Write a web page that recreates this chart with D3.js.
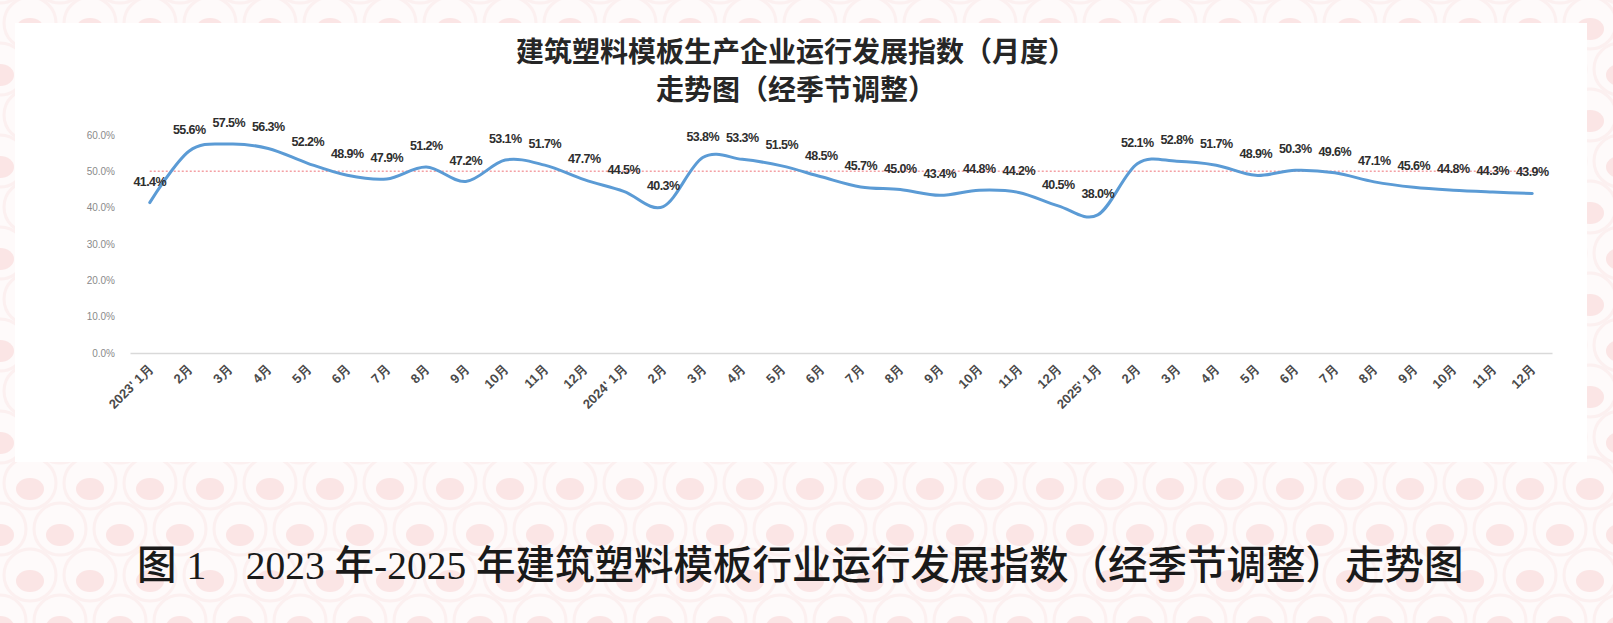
<!DOCTYPE html>
<html>
<head>
<meta charset="utf-8">
<script src="https://cdn.jsdelivr.net/npm/d3@7"></script>
<style>
  body { margin: 0; background: #fefafa; }
  svg { display: block; }
</style>
</head>
<body>
<div id="wykres"></div>
<script>
// dane
var years = ["2023", "2024", "2025"];
var months = ["1月", "2月", "3月", "4月", "5月", "6月", "7月", "8月", "9月", "10月", "11月", "12月"];
var values = [
  41.4, 55.6, 57.5, 56.3, 52.2, 48.9, 47.9, 51.2, 47.2, 53.1, 51.7, 47.7,
  44.5, 40.3, 53.8, 53.3, 51.5, 48.5, 45.7, 45.0, 43.4, 44.8, 44.2, 40.5,
  38.0, 52.1, 52.8, 51.7, 48.9, 50.3, 49.6, 47.1, 45.6, 44.8, 44.3, 43.9
];
var benchmark = 50;
var yTicks = [0, 10, 20, 30, 40, 50, 60];
var titleLines = ["建筑塑料模板生产企业运行发展指数（月度）", "走势图（经季节调整）"];
var caption = "图 1    2023 年-2025 年建筑塑料模板行业运行发展指数（经季节调整）走势图";

var width = 1613, height = 623;
var margin = { top: 135, left: 130, right: 61, bottom: 270 };

var categories = [];
years.forEach(function (y) {
  months.forEach(function (m, i) {
    categories.push(i == 0 ? y + "' " + m : m);
  });
});
var dane = values.map(function (v, i) { return { i: i, kat: categories[i], v: v }; });

var svg = d3.select("#wykres")
  .append("svg")
  .attr("width", width)
  .attr("height", height);

// tlo w kolka
var defs = svg.append("defs");
var pat = defs.append("pattern")
  .attr("id", "kolka")
  .attr("patternUnits", "userSpaceOnUse")
  .attr("width", 60)
  .attr("height", 92);
pat.append("rect").attr("width", 60).attr("height", 92).attr("fill", "#fefafa");
[[30, 23], [30, 115], [0, 69], [60, 69], [0, -23], [60, -23]].forEach(function (c) {
  pat.append("circle")
    .attr("cx", c[0]).attr("cy", c[1]).attr("r", 26)
    .attr("fill", "none").attr("stroke", "#fcf0f0").attr("stroke-width", 3);
  pat.append("ellipse")
    .attr("cx", c[0]).attr("cy", c[1] + 6).attr("rx", 14).attr("ry", 11)
    .attr("fill", "#fbe5e5");
});
svg.append("rect").attr("width", width).attr("height", height).attr("fill", "url(#kolka)");

// bialy panel wykresu
svg.append("rect")
  .attr("x", 15).attr("y", 23)
  .attr("width", 1572).attr("height", 439)
  .attr("fill", "white");

var g = svg.append("g")
  .attr("transform", "translate(" + margin.left + "," + margin.top + ")");
var w = width - margin.left - margin.right;
var h = 353 - margin.top;

var xscale = d3.scaleBand()
  .domain(d3.range(categories.length))
  .range([0, w]);

var yscale = d3.scaleLinear()
  .domain([0, 60])
  .range([h, 0]);

// os Y
var yAxis = g.append("g")
  .call(d3.axisLeft(yscale).tickValues(yTicks).tickSize(0).tickPadding(15)
    .tickFormat(function (d) { return d3.format(".1f")(d) + "%"; }));
yAxis.select(".domain").remove();
yAxis.selectAll("text")
  .style("font-family", "'Liberation Sans', Arial, sans-serif")
  .style("font-size", "10px")
  .attr("fill", "#8a8a8a");

// os X
var xAxis = g.append("g")
  .attr("transform", "translate(0," + h + ")")
  .call(d3.axisBottom(xscale).tickSize(0).tickSizeOuter(0)
    .tickFormat(function (i) { return categories[i]; }));
xAxis.select(".domain")
  .attr("stroke", "#d9d9d9")
  .attr("stroke-width", 1.5);
xAxis.selectAll("text")
  .attr("y", 0)
  .attr("dy", 0)
  .attr("transform", "translate(4,17)rotate(-45)")
  .style("text-anchor", "end")
  .style("font-family", "'Liberation Sans', Arial, sans-serif")
  .style("font-weight", "bold")
  .style("font-size", "13px")
  .attr("fill", "#4a4a4a");

var cx = function (i) { return xscale(i) + xscale.bandwidth() / 2; };

// linia 50%
g.append("line")
  .attr("x1", cx(0))
  .attr("x2", cx(categories.length - 1))
  .attr("y1", yscale(benchmark))
  .attr("y2", yscale(benchmark))
  .attr("stroke", "#f4a0a4")
  .attr("stroke-width", 1.5)
  .attr("stroke-dasharray", "2,2");

// linia indeksu
g.append("path")
  .datum(dane)
  .attr("fill", "none")
  .attr("stroke", "#5b9bd5")
  .attr("stroke-width", 3)
  .attr("stroke-linecap", "round")
  .attr("d", d3.line()
    .curve(d3.curveCardinal.tension(0))
    .x(function (d) { return cx(d.i); })
    .y(function (d) { return yscale(d.v); })
  );

// etykiety
g.append("g")
  .selectAll("text")
  .data(dane)
  .enter().append("text")
  .attr("x", function (d) { return cx(d.i); })
  .attr("y", function (d) { return yscale(d.v) - 17; })
  .attr("text-anchor", "middle")
  .style("font-family", "'Liberation Sans', Arial, sans-serif")
  .style("font-weight", "bold")
  .style("font-size", "12.5px")
  .style("letter-spacing", "-0.6px")
  .attr("fill", "#2e2e2e")
  .text(function (d) { return d3.format(".1f")(d.v) + "%"; });

// tytul
svg.append("g")
  .selectAll("text")
  .data(titleLines)
  .enter().append("text")
  .attr("x", 796)
  .attr("y", function (d, i) { return 62 + i * 38; })
  .attr("text-anchor", "middle")
  .style("font-family", "'Noto Sans CJK SC', sans-serif")
  .style("font-weight", "bold")
  .style("font-size", "28px")
  .attr("fill", "#262626")
  .text(function (d) { return d; });

// podpis
svg.append("text")
  .attr("x", 137)
  .attr("y", 579)
  .style("white-space", "pre")
  .style("font-family", "'Liberation Serif', 'Noto Sans CJK SC', serif")
  .style("font-weight", "500")
  .style("font-size", "39.5px")
  .attr("fill", "#1a1a1a")
  .text(caption);
</script>
</body>
</html>
